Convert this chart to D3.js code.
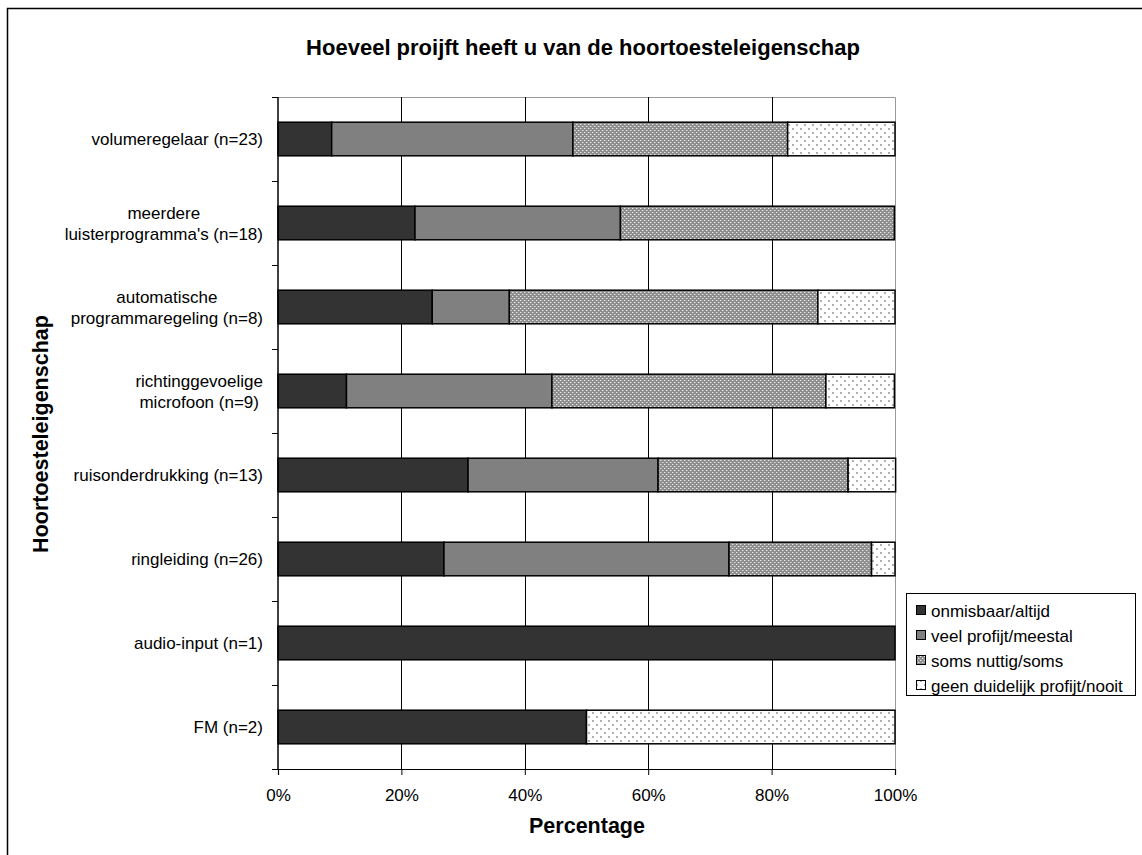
<!DOCTYPE html>
<html><head><meta charset="utf-8">
<script src="https://cdn.jsdelivr.net/npm/d3@7"></script>
<style>body{margin:0;background:#fff;} svg{display:block;font-family:"Liberation Sans",Arial,sans-serif;}</style>
</head><body>
<svg id="c" width="1142" height="855"></svg>
<script>
const categories = [
  ["volumeregelaar (n=23)"],
  ["meerdere", "luisterprogramma's (n=18)"],
  ["automatische", "programmaregeling (n=8)"],
  ["richtinggevoelige", "microfoon (n=9)"],
  ["ruisonderdrukking (n=13)"],
  ["ringleiding (n=26)"],
  ["audio-input (n=1)"],
  ["FM (n=2)"]
];
const seriesNames = ["onmisbaar/altijd", "veel profijt/meestal", "soms nuttig/soms", "geen duidelijk profijt/nooit"];
const onmisbaar = [8.7, 22.2, 25.0, 11.1, 30.8, 26.9, 100, 50];
const veelProfijt = [39.1, 33.3, 12.5, 33.3, 30.8, 46.2, 0, 0];
const somsNuttig = [34.8, 44.4, 50.0, 44.4, 30.8, 23.1, 0, 0];
const geenProfijt = [17.4, 0, 12.5, 11.1, 7.7, 3.8, 0, 50];
const xTicks = [0, 20, 40, 60, 80, 100];

const svg = d3.select("#c");
const defs = svg.append("defs");
const p1 = defs.append("pattern").attr("id","pSoms").attr("patternUnits","userSpaceOnUse").attr("width",4).attr("height",4);
p1.append("rect").attr("width",4).attr("height",4).attr("fill","#8e8e8e");
p1.append("rect").attr("x",0).attr("y",0).attr("width",1).attr("height",1).attr("fill","#e4e4e4");
p1.append("rect").attr("x",2).attr("y",2).attr("width",1).attr("height",1).attr("fill","#e4e4e4");
p1.append("rect").attr("x",1).attr("y",0).attr("width",1).attr("height",1).attr("fill","#b4b4b4");
p1.append("rect").attr("x",3).attr("y",2).attr("width",1).attr("height",1).attr("fill","#b4b4b4");
const p2 = defs.append("pattern").attr("id","pGeen").attr("patternUnits","userSpaceOnUse").attr("width",8).attr("height",8);
p2.append("rect").attr("width",8).attr("height",8).attr("fill","#ffffff");
p2.append("rect").attr("x",0).attr("y",0).attr("width",2).attr("height",2).attr("fill","#b0b0b0");
p2.append("rect").attr("x",4).attr("y",4).attr("width",2).attr("height",2).attr("fill","#b0b0b0");
const fills = ["#333333", "#808080", "url(#pSoms)", "url(#pGeen)"];

svg.append("rect").attr("x",7.5).attr("y",8.5).attr("width",1150).attr("height",870)
  .attr("fill","none").attr("stroke","#000").attr("stroke-width",1.5);

const L = 278, R = 895, T = 97, B = 769;
const x = d3.scaleLinear().domain([0,100]).range([L,R]);
const y = d3.scaleBand().domain(d3.range(categories.length)).range([T,B]).paddingInner(0.6).paddingOuter(0.3);
const yEdges = d3.scaleLinear().domain([0,categories.length]).range([T,B]);

svg.append("path").attr("d",`M${L},${T+0.5}H${R+0.5}V${B}`).attr("fill","none").attr("stroke","#999").attr("stroke-width",1);

svg.append("g").selectAll("line").data(xTicks.filter(t=>t>0&&t<100)).join("line")
  .attr("x1",d=>Math.round(x(d))+0.5).attr("x2",d=>Math.round(x(d))+0.5).attr("y1",T).attr("y2",B)
  .attr("stroke","#000").attr("stroke-width",1);

const data = categories.map((c,i)=>({i, v:[onmisbaar[i],veelProfijt[i],somsNuttig[i],geenProfijt[i]]}));
const stack = d3.stack().keys([0,1,2,3]).value((d,k)=>d.v[k]);
const stacked = stack(data);
const gBars = svg.append("g");
stacked.forEach((layer,k)=>{
  gBars.selectAll(null).data(layer.filter(d=>d[1]-d[0]>0)).join("rect")
    .attr("x",d=>x(d[0])).attr("width",d=>x(d[1])-x(d[0]))
    .attr("y",d=>y(d.data.i)).attr("height",y.bandwidth())
    .attr("fill",fills[k]).attr("stroke","#000").attr("stroke-width",1.5);
});

const xAxis = svg.append("g").attr("transform",`translate(0,${B})`)
  .call(d3.axisBottom(x).tickValues(xTicks).tickFormat(d=>d+"%").tickSize(6).tickPadding(14));
xAxis.select(".domain").attr("stroke","#000").attr("stroke-width",1.2);
xAxis.selectAll("text").attr("font-size",17).attr("fill","#000").attr("font-family","Liberation Sans, Arial, sans-serif");

svg.append("line").attr("x1",L).attr("x2",L).attr("y1",T).attr("y2",B).attr("stroke","#000").attr("stroke-width",1.5);
svg.append("g").selectAll("line").data(d3.range(categories.length+1)).join("line")
  .attr("x1",L-6).attr("x2",L).attr("y1",d=>Math.round(yEdges(d))+0.5).attr("y2",d=>Math.round(yEdges(d))+0.5)
  .attr("stroke","#000").attr("stroke-width",1);

const gy = svg.append("g");
const labelRight = 263;
categories.forEach((lines,i)=>{
  const cy = y(i)+y.bandwidth()/2;
  const lh = 21;
  const t = gy.append("text").attr("text-anchor","middle").attr("font-size",17).attr("fill","#000");
  const spans = lines.map((ln,j)=> t.append("tspan").attr("y", cy + (j-(lines.length-1)/2)*lh + 6).text(ln));
  const w = d3.max(spans, s=>s.node().getComputedTextLength());
  spans.forEach(s=>s.attr("x", labelRight - w/2));
});

svg.append("text").attr("x",583).attr("y",55).attr("text-anchor","middle").attr("font-size",22).attr("font-weight","bold").text("Hoeveel proijft heeft u van de hoortoesteleigenschap");
svg.append("text").attr("x",587).attr("y",833).attr("text-anchor","middle").attr("font-size",21.5).attr("font-weight","bold").text("Percentage");
svg.append("text").attr("transform","translate(48,434) rotate(-90)").attr("text-anchor","middle").attr("font-size",21.5).attr("font-weight","bold").text("Hoortoesteleigenschap");

const lg = svg.append("g");
lg.append("rect").attr("x",906.5).attr("y",593.5).attr("width",229).attr("height",102).attr("fill","#fff").attr("stroke","#000").attr("stroke-width",1);
seriesNames.forEach((n,k)=>{
  const yy = 611 + k*25;
  lg.append("rect").attr("x",916.5).attr("y",yy-5.5).attr("width",9).attr("height",9).attr("fill",fills[k]).attr("stroke","#000").attr("stroke-width",1);
  lg.append("text").attr("x",931).attr("y",yy+6).attr("font-size",17).text(n);
});
</script>
</body></html>
